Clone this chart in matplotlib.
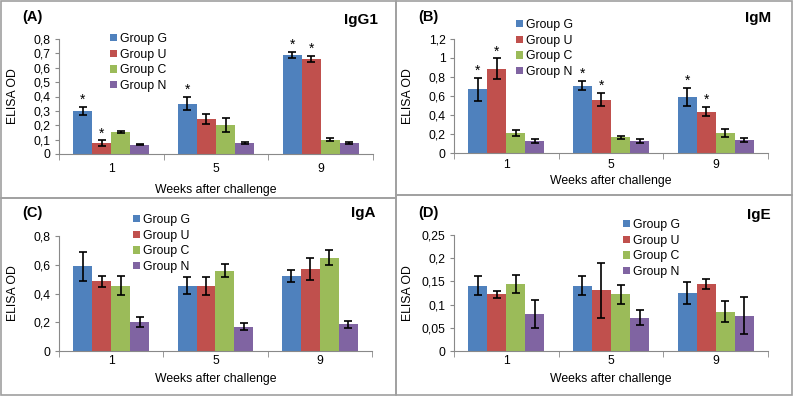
import numpy as np
import matplotlib
matplotlib.use("Agg")
import matplotlib.pyplot as plt
from matplotlib.patches import Rectangle

plt.rcParams['font.family'] = ['Liberation Sans', 'DejaVu Sans']

# Data
weeks = ['1', '5', '9']
groups = ['Group G', 'Group U', 'Group C', 'Group N']
colors = ['#4F81BD', '#C0504D', '#9BBB59', '#8064A2']

# IgG1
igg1_mean = [[0.30, 0.35, 0.69],
             [0.075, 0.245, 0.66],
             [0.15, 0.20, 0.098],
             [0.066, 0.075, 0.076]]
igg1_err = [[0.03, 0.045, 0.022],
            [0.02, 0.035, 0.02],
            [0.007, 0.048, 0.01],
            [0.005, 0.008, 0.005]]
igg1_star = [[1, 1, 1], [1, 0, 1], [0, 0, 0], [0, 0, 0]]

# IgM
igm_mean = [[0.67, 0.71, 0.59],
            [0.885, 0.56, 0.435],
            [0.21, 0.165, 0.21],
            [0.125, 0.125, 0.14]]
igm_err = [[0.12, 0.05, 0.095],
           [0.11, 0.07, 0.05],
           [0.035, 0.015, 0.04],
           [0.02, 0.02, 0.022]]
igm_star = [[1, 1, 1], [1, 1, 1], [0, 0, 0], [0, 0, 0]]

# IgA
iga_mean = [[0.59, 0.455, 0.52],
            [0.485, 0.455, 0.57],
            [0.455, 0.56, 0.648],
            [0.2, 0.17, 0.187]]
iga_err = [[0.1, 0.06, 0.043],
           [0.037, 0.062, 0.078],
           [0.065, 0.044, 0.052],
           [0.035, 0.025, 0.025]]

# IgE
ige_mean = [[0.141, 0.141, 0.125],
            [0.122, 0.131, 0.144],
            [0.144, 0.122, 0.085],
            [0.079, 0.072, 0.076]]
ige_err = [[0.02, 0.02, 0.023],
           [0.008, 0.059, 0.011],
           [0.02, 0.02, 0.023],
           [0.03, 0.017, 0.04]]

W, H = 794, 398
fs = 8.8
fig = plt.figure(figsize=(W / 100, H / 100), dpi=100)


def px_axes(left, top, right, bottom):
    # pixel box -> figure axes
    return fig.add_axes([left / W, 1 - bottom / H, (right - left) / W, (bottom - top) / H])


def draw_panel(ax, mean, err, star, yticks, leg_xy, tick_pad, xlab_y):
    x = np.arange(len(weeks))
    w = 1 / 5.5
    for i, g in enumerate(groups):
        xs = x + (i - 1.5) * w
        ax.bar(xs, mean[i], w, color=colors[i], label=g, zorder=2)
        ax.errorbar(xs, mean[i], yerr=err[i], fmt='none', ecolor='black',
                    elinewidth=1.2, capsize=3, capthick=1.2, zorder=3)
        if star is not None:
            for j in range(len(weeks)):
                if star[i][j]:
                    ax.annotate('*', (xs[j], mean[i][j] + err[i][j]), xytext=(0, 0),
                                textcoords='offset points', ha='center', va='bottom',
                                fontsize=10)
    ax.set_xlim(-0.5, len(weeks) - 0.5)
    ax.set_ylim(yticks[0], yticks[-1])
    ax.set_yticks(yticks)
    ax.set_yticklabels([('%g' % v).replace('.', ',') for v in yticks])
    ax.set_xticks(x)
    ax.set_xticklabels(weeks)
    ax.set_xticks(np.arange(len(weeks) + 1) - 0.5, minor=True)
    ax.tick_params(axis='x', which='major', length=0, pad=tick_pad, labelsize=fs)
    ax.tick_params(axis='x', which='minor', length=4, color='#898989', direction='out')
    ax.tick_params(axis='y', length=3, color='#898989', pad=3, labelsize=fs)
    for s in ['top', 'right']:
        ax.spines[s].set_visible(False)
    for s in ['left', 'bottom']:
        ax.spines[s].set_color('#898989')
    ax.set_ylabel('ELISA OD', fontsize=fs)
    ax.yaxis.set_label_coords(-0.128, 0.5)
    ax.set_xlabel('Weeks after challenge', fontsize=fs)
    ax.xaxis.set_label_coords(0.5, xlab_y)
    ax.legend(loc='upper left', bbox_to_anchor=(leg_xy[0] / W, 1 - leg_xy[1] / H),
              bbox_transform=fig.transFigure, frameon=False, fontsize=fs,
              handlelength=0.55, handleheight=0.55, handletextpad=0.25,
              labelspacing=0.3, borderpad=0, borderaxespad=0)
    return ax


# panel frames
for (l, t, r, b) in [(1, 1, 396, 198), (396, 1, 792, 195), (1, 198, 396, 395), (396, 195, 792, 395)]:
    fig.patches.append(Rectangle((l / W, 1 - b / H), (r - l) / W, (b - t) / H,
                                 transform=fig.transFigure, fill=False,
                                 edgecolor='#a0a0a0', linewidth=1.2))

ax1 = px_axes(59, 39, 373, 154)
draw_panel(ax1, igg1_mean, igg1_err, igg1_star, [0, 0.1, 0.2, 0.3, 0.4, 0.5, 0.6, 0.7, 0.8],
           (110, 33), 6.5, -0.26)
ax2 = px_axes(454, 39, 768, 153)
draw_panel(ax2, igm_mean, igm_err, igm_star, [0, 0.2, 0.4, 0.6, 0.8, 1.0, 1.2],
           (516, 19), 4.3, -0.19)
ax3 = px_axes(59, 236, 372, 351)
draw_panel(ax3, iga_mean, iga_err, None, [0, 0.2, 0.4, 0.6, 0.8],
           (133, 214), 3, -0.19)
ax4 = px_axes(454, 235, 768, 351)
draw_panel(ax4, ige_mean, ige_err, None, [0, 0.05, 0.1, 0.15, 0.2, 0.25],
           (623, 219), 3, -0.19)

# panel letters and titles
for (lx, ly, letter, tx, ty, title) in [(22, 17, '(A)', 378, 20, 'IgG1'),
                                        (418, 17, '(B)', 771, 18, 'IgM'),
                                        (22, 213, '(C)', 375, 213, 'IgA'),
                                        (418, 213, '(D)', 771, 215, 'IgE')]:
    fig.text(lx / W, 1 - ly / H, letter, fontsize=10.5, fontweight='bold', va='center', ha='left')
    fig.text(tx / W, 1 - ty / H, title, fontsize=11, fontweight='bold', va='center', ha='right')

fig.savefig('out.png', dpi=100)
